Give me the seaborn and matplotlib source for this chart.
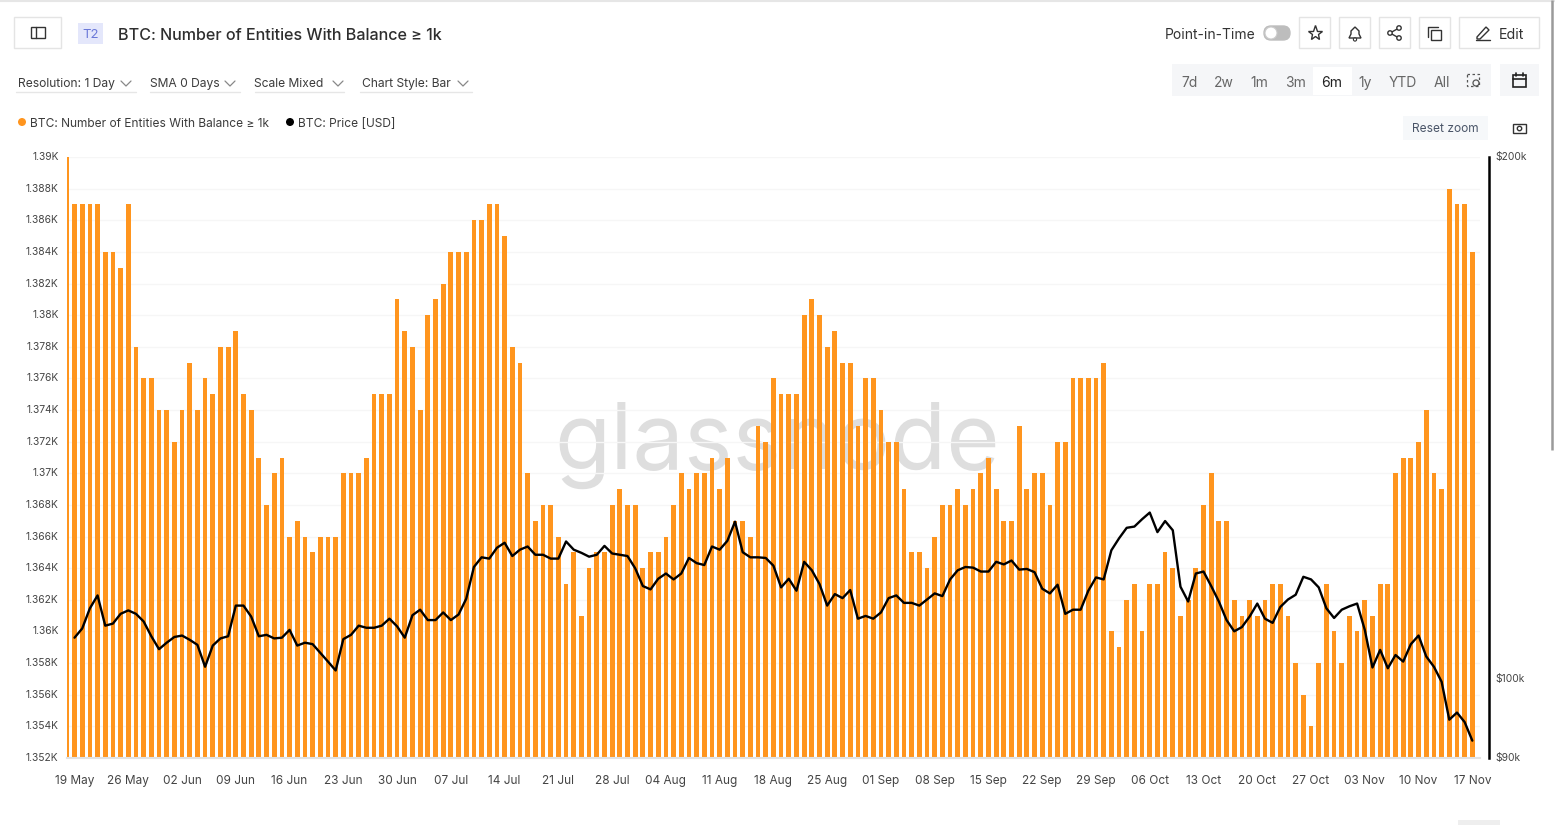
import numpy as np
import pandas as pd
import seaborn as sns
import matplotlib.pyplot as plt
from matplotlib.patches import Rectangle, Circle, FancyBboxPatch, Polygon
from matplotlib.transforms import ScaledTranslation

# daily entity count, 18 May -> 17 Nov
entities = [
    1390, 1387, 1387, 1387, 1387, 1384, 1384, 1383, 1387, 1378, 1376, 1376, 1374, 1374, 1372, 1374,
    1377, 1374, 1376, 1375, 1378, 1378, 1379, 1375, 1374, 1371, 1368, 1370, 1371, 1366, 1367, 1366,
    1365, 1366, 1366, 1366, 1370, 1370, 1370, 1371, 1375, 1375, 1375, 1381, 1379, 1378, 1374, 1380,
    1381, 1382, 1384, 1384, 1384, 1386, 1386, 1387, 1387, 1385, 1378, 1377, 1370, 1367,
    1368, 1368, 1366, 1363, 1365, 1361, 1364, 1365, 1365, 1368, 1369, 1368, 1368, 1364, 1365, 1365,
    1366, 1368, 1370, 1369, 1370, 1370, 1371, 1369, 1371, 1367, 1367, 1366, 1373, 1372, 1376, 1375,
    1375, 1375, 1380, 1381, 1380, 1378, 1379, 1377, 1377, 1373, 1376, 1376, 1374, 1372, 1372, 1369,
    1365, 1365, 1364, 1366, 1368, 1368, 1369, 1368, 1369, 1370, 1371, 1369,
    1367, 1367, 1373, 1369, 1370, 1370, 1368, 1372, 1372, 1376, 1376, 1376, 1376, 1377, 1360, 1359,
    1362, 1363, 1360, 1363, 1363, 1365, 1364, 1361, 1362, 1364, 1368, 1370, 1367, 1367, 1362, 1361,
    1362, 1361, 1362, 1363, 1363, 1361, 1358, 1356, 1354, 1358, 1363, 1360, 1358, 1361, 1360, 1362,
    1361, 1363, 1363, 1370, 1371, 1371, 1372, 1374, 1370, 1369, 1388, 1387, 1387, 1384,
]

# price in $k, 19 May -> 17 Nov
price_k = [
    105.6, 106.9, 109.8, 111.7, 107.3, 107.6, 109.0, 109.5, 109.0, 107.9, 105.8, 104.0, 104.9, 105.7,
    105.9, 105.3, 104.6, 101.6, 104.5, 105.5, 105.8, 110.2, 110.2, 108.6, 105.8, 106.0, 105.5, 105.6,
    106.7, 104.5, 104.9, 104.7, 103.5, 102.3, 101.1, 105.4, 106.0, 107.3, 107.0, 107.0, 107.3, 108.3,
    107.2, 105.6, 108.8, 109.6, 108.1, 108.1, 109.2, 108.1, 108.9, 111.2, 116.0, 117.5, 117.3, 119.0,
    119.8, 117.7, 118.7, 119.2, 117.9, 117.9, 117.3, 117.3, 120.0, 118.7, 118.2, 117.6, 117.9, 119.3,
    118.1, 117.9, 117.7, 115.8, 113.1, 112.6, 114.2, 115.0, 114.1, 115.0, 117.4, 116.6, 116.3, 119.2,
    118.7, 120.1, 123.2, 118.3, 117.5, 117.5, 117.4, 116.2, 112.9, 114.2, 112.4, 116.8, 115.5, 113.4,
    110.2, 111.9, 111.3, 112.5, 108.3, 108.7, 108.3, 109.2, 111.3, 111.7, 110.6, 110.6, 110.2, 111.1,
    112.0, 111.6, 114.1, 115.5, 116.0, 115.9, 115.3, 115.3, 116.8, 116.4, 117.0, 115.6, 115.7, 115.2,
    112.7, 112.0, 113.3, 109.0, 109.6, 109.6, 112.4, 114.4, 114.1, 118.6, 120.5, 122.2, 122.4, 123.6,
    124.7, 121.5, 123.3, 121.8, 113.0, 110.8, 115.0, 115.3, 113.1, 110.8, 108.1, 106.5, 107.1, 108.6,
    110.5, 108.3, 107.7, 110.0, 111.1, 111.8, 114.5, 114.1, 112.9, 109.8, 108.4, 109.6, 110.1, 110.5,
    106.7, 101.5, 103.9, 101.4, 103.2, 102.3, 104.7, 105.9, 103.0, 101.6, 99.6, 94.7, 95.6, 94.4, 92.1,
]

date_labels = [
    "19 May", "26 May", "02 Jun", "09 Jun", "16 Jun", "23 Jun", "30 Jun", "07 Jul", "14 Jul", "21 Jul",
    "28 Jul", "04 Aug", "11 Aug", "18 Aug", "25 Aug", "01 Sep", "08 Sep", "15 Sep", "22 Sep", "29 Sep",
    "06 Oct", "13 Oct", "20 Oct", "27 Oct", "03 Nov", "10 Nov", "17 Nov",
]
left_ticks = list(range(1352, 1391, 2))
left_labels = ["1.352K", "1.354K", "1.356K", "1.358K", "1.36K", "1.362K", "1.364K", "1.366K", "1.368K",
               "1.37K", "1.372K", "1.374K", "1.376K", "1.378K", "1.38K", "1.382K", "1.384K", "1.386K",
               "1.388K", "1.39K"]
right_ticks = [90000, 100000, 200000]
right_labels = ["$90k", "$100k", "$200k"]
ranges = ["7d", "2w", "1m", "3m", "6m", "1y", "YTD", "All"]
range_x = [1190, 1224, 1259, 1295, 1332, 1365, 1403, 1442]
dropdowns = ["Resolution: 1 Day", "SMA 0 Days", "Scale Mixed", "Chart Style: Bar"]

ORANGE = "#ff951e"
W, H = 1555, 825

sns.set_theme(style="white")
plt.rcParams["font.family"] = ["Inter", "DejaVu Sans"]

bars = pd.DataFrame({"day": np.arange(-1, len(entities) - 1), "entities": entities})
line = pd.DataFrame({"day": np.arange(len(price_k)), "price": np.array(price_k) * 1000})

fig = plt.figure(figsize=(W / 100, H / 100), dpi=100, facecolor="white")
ax = fig.add_axes([67 / W, 1 - 758 / H, (1480 - 67) / W, (758 - 157) / H])

# watermark goes under the bars
ax.text(0.5025, 0.481, "glassnode", transform=ax.transAxes, ha="center", va="baseline", fontsize=66,
        color="#dedede", zorder=0.5)

sns.barplot(data=bars, x="day", y="entities", native_scale=True, width=0.62, color=ORANGE,
            saturation=1, linewidth=0, ax=ax, zorder=2)
ax.set_xlim(-0.98, 183)
ax.set_ylim(1352, 1390)
ax.set_xticks(np.arange(0, 183, 7), date_labels)
ax.set_yticks(left_ticks, left_labels)
ax.set_xlabel("")
ax.set_ylabel("")
ax.grid(axis="y", color="#f6f6f6", lw=1)
ax.set_axisbelow(True)
ax.tick_params(axis="x", length=5, width=1, color="#e6e6e6", labelsize=8.5, labelcolor="#444444", pad=7.5)
ax.tick_params(axis="y", length=0, labelsize=7.4, labelcolor="#444444", pad=6)
for s in ["top", "left", "right"]:
    ax.spines[s].set_visible(False)
ax.spines["bottom"].set_color("#e2e2e2")
ax.spines["bottom"].set_linewidth(1.5)

ax2 = ax.twinx()
sns.lineplot(data=line, x="day", y="price", color="black", lw=1.7, ax=ax2, errorbar=None)
ax2.set_yscale("log")
ax2.set_ylim(90000, 200000)
ax2.set_yticks(right_ticks, right_labels)
ax2.minorticks_off()
ax2.set_ylabel("")
ax2.tick_params(axis="y", length=0, labelsize=7.4, labelcolor="#444444", pad=4.5)
for s in ["top", "left", "bottom"]:
    ax2.spines[s].set_visible(False)
ax2.spines["right"].set_position(("outward", 6.5))
ax2.spines["right"].set_color("black")
ax2.spines["right"].set_linewidth(1.8)

# y labels sit a pixel higher than matplotlib centres them
nudge = ScaledTranslation(0, 1 / 100, fig.dpi_scale_trans)
for t in ax.get_yticklabels() + ax2.get_yticklabels():
    t.set_transform(t.get_transform() + nudge)

# page chrome, in pixel coordinates
ui = fig.add_axes([0, 0, 1, 1], zorder=10)
ui.set_xlim(0, W)
ui.set_ylim(H, 0)
ui.axis("off")
ui.patch.set_alpha(0)


def button(x, y, w, h, ec="#e4e4e4", fc="white"):
    ui.add_patch(Rectangle((x, y), w, h, fc=fc, ec=ec, lw=1))


def label(x, y, s, size=10, color="#3c3c3c", ha="left", **kw):
    ui.text(x, y, s, fontsize=size, color=color, ha=ha, va="center", **kw)


ui.plot([0, W], [0.5, 0.5], color="#e6e6e6", lw=1.5)
ui.plot([1552, 1552], [0, 450], color="#9a9a9a", lw=1.8, solid_capstyle="butt")
ui.add_patch(Rectangle((1458, 820), 42, 5, fc="#eeeeee", ec="none"))

button(14, 17, 47, 31)
ui.add_patch(Rectangle((31, 27), 14, 11, fc="none", ec="#333333", lw=1))
ui.plot([36, 36], [27, 38], color="#333333", lw=1)
ui.add_patch(Rectangle((78, 23), 25, 21, fc="#e4e7fb", ec="none"))
label(90.5, 34.5, "T2", size=9.5, color="#6a78d8", ha="center")
label(118, 35, "BTC: Number of Entities With Balance ≥ 1k", size=11.6, color="#2e2e2e", weight="medium")

# toolbar top right
label(1165, 35, "Point-in-Time", size=10, color="#333333")
ui.add_patch(FancyBboxPatch((1264, 26), 26, 14, boxstyle="round,pad=0,rounding_size=7",
                            fc="#bdbdbd", ec="#bdbdbd", lw=1))
ui.add_patch(Circle((1271, 33), 6, fc="white", ec="#cccccc", lw=0.8))
for bx in [1299, 1339, 1379, 1419]:
    button(bx, 17, 31, 31)
button(1459, 17, 80, 31)
ui.plot([1315], [33], marker="*", ms=11, mfc="none", mec="#333333", mew=1)
# bell
ui.add_patch(Polygon([(1349, 38), (1351, 34), (1351, 31), (1355, 27), (1359, 31), (1359, 34), (1361, 38)],
                     closed=True, fc="none", ec="#333333", lw=1))
ui.add_patch(Circle((1355, 39.5), 1.6, fc="white", ec="#333333", lw=0.8))
# share
ui.plot([1399, 1390, 1399], [28, 33, 38], color="#333333", lw=1)
for cx, cy in [(1399, 28), (1390, 33), (1399, 38)]:
    ui.add_patch(Circle((cx, cy), 2.2, fc="white", ec="#333333", lw=1, zorder=3))
# copy
ui.plot([1428, 1428, 1438], [37, 27, 27], color="#333333", lw=1)
ui.add_patch(Rectangle((1431, 30), 10, 10, fc="white", ec="#333333", lw=1))
# edit
ui.add_patch(Polygon([(1477, 37), (1486, 27), (1489, 30), (1480, 39), (1477, 39)],
                     closed=True, fc="none", ec="#333333", lw=1))
ui.plot([1476, 1490], [40, 40], color="#333333", lw=1)
label(1499, 35, "Edit", size=10.2, color="#333333")

# dropdowns
for s, tx, x0, x1, cx in zip(dropdowns, [18, 150, 254, 362], [16, 150, 255, 360], [136, 240, 344, 472],
                             [126, 230, 338, 463]):
    label(tx, 84, s, size=8.7)
    ui.plot([x0, x1], [92, 92], color="#e6e6e6", lw=1)
    ui.plot([cx - 5, cx, cx + 5], [81, 86, 81], color="#888888", lw=0.9)

# range selector
ui.add_patch(Rectangle((1172, 64), 319, 32, fc="#f5f6f8", ec="none"))
ui.add_patch(Rectangle((1500, 64), 39, 32, fc="#f5f6f8", ec="none"))
ui.add_patch(Rectangle((1313, 67), 39, 28, fc="white", ec="none"))
for s, x in zip(ranges, range_x):
    label(x, 83, s, size=10, color="#222222" if s == "6m" else "#666666", ha="center")
ui.add_patch(Rectangle((1467, 74), 12, 12, fc="none", ec="#555555", lw=0.9, ls=(0, (2, 2))))
ui.add_patch(Circle((1476, 83), 3, fc="#f5f6f8", ec="#555555", lw=0.9))
ui.add_patch(Rectangle((1513, 75), 13, 12, fc="none", ec="#222222", lw=1.2))
ui.plot([1513, 1526], [79, 79], color="#222222", lw=1.2)
ui.plot([1516, 1516], [73, 76], color="#222222", lw=1.2)
ui.plot([1523, 1523], [73, 76], color="#222222", lw=1.2)

# legend
ui.add_patch(Circle((22, 122), 4, fc=ORANGE, ec="none"))
label(30, 124, "BTC: Number of Entities With Balance ≥ 1k", size=8.6)
ui.add_patch(Circle((290, 122), 4, fc="black", ec="none"))
label(298, 124, "BTC: Price [USD]", size=8.6)

ui.add_patch(Rectangle((1403, 116), 85, 24, fc="#f6f8fa", ec="none"))
label(1445.5, 129, "Reset zoom", size=8.6, color="#4a5568", ha="center")
# camera
ui.add_patch(Rectangle((1513, 124), 13, 9, fc="none", ec="#333333", lw=1))
ui.add_patch(Circle((1519.5, 128.5), 2.2, fc="none", ec="#333333", lw=1))

fig.savefig("out.png", dpi=100)
